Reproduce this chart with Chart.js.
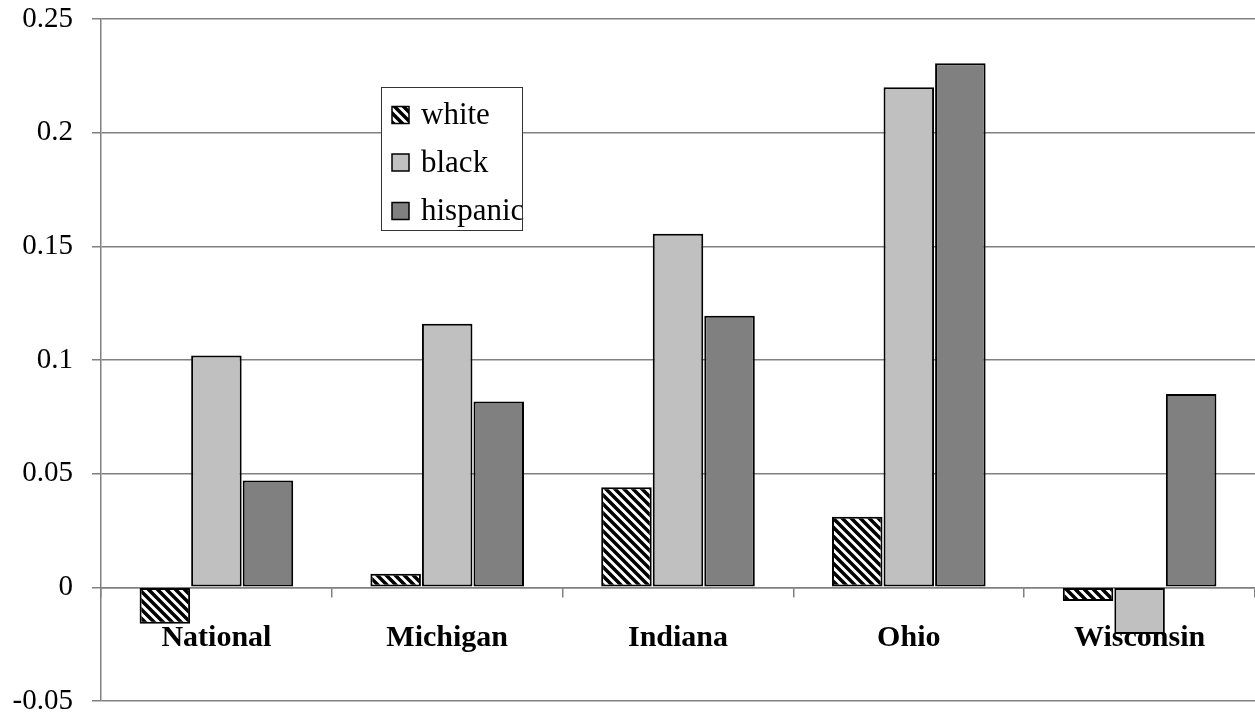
<!DOCTYPE html>
<html>
<head>
<meta charset="utf-8">
<script src="https://cdn.jsdelivr.net/npm/chart.js@4.4.1/dist/chart.umd.min.js"></script>
<style>
  html, body { margin: 0; padding: 0; background: #fff; }
  #wrap { width: 1255px; height: 715px; position: relative; }
</style>
</head>
<body>
<div id="wrap"><canvas id="chart"></canvas></div>
<script>
const categories = ['National', 'Michigan', 'Indiana', 'Ohio', 'Wisconsin'];
const whiteVals = [-0.016, 0.006, 0.044, 0.031, -0.006];
const blackVals = [0.102, 0.116, 0.1555, 0.22, -0.0205];
const hispanicVals = [0.047, 0.0817, 0.1195, 0.2305, 0.085];
const seriesNames = ['white', 'black', 'hispanic'];
const yTickValues = [-0.05, 0, 0.05, 0.1, 0.15, 0.2, 0.25];
const yTickLabels = ['-0.05', '0', '0.05', '0.1', '0.15', '0.2', '0.25'];

const SERIF = "'Liberation Serif', 'Times New Roman', serif";
const GRID = '#808080';

// diagonal hatch like Excel's "wide downward diagonal"
function makeHatch() {
    const c = document.createElement('canvas');
    c.width = 9; c.height = 9;
    const g = c.getContext('2d');
    g.fillStyle = '#fff';
    g.fillRect(0, 0, 9, 9);
    g.strokeStyle = '#000';
    g.lineWidth = 3.5;
    g.beginPath();
    g.moveTo(-2, -2); g.lineTo(11, 11);
    g.moveTo(-2, 7); g.lineTo(2, 11);
    g.moveTo(7, -2); g.lineTo(11, 2);
    g.stroke();
    return g.createPattern(c, 'repeat');
}
const hatch = makeHatch();
const fills = [hatch, '#c0c0c0', '#808080'];

const legendBox = {
    id: 'legendBox',
    afterDatasetsDraw(chart) {
        const ctx = chart.ctx;
        const x = 381, y = 87, w = 141, h = 143;
        ctx.save();
        ctx.fillStyle = '#fff';
        ctx.fillRect(x, y, w, h);
        const rows = [115, 162.5, 211];
        ctx.font = `31px ${SERIF}`;
        ctx.textBaseline = 'middle';
        ctx.textAlign = 'left';
        seriesNames.forEach((name, i) => {
            ctx.fillStyle = fills[i];
            ctx.fillRect(392, rows[i] - 8.5, 17, 17);
            ctx.strokeStyle = '#000';
            ctx.lineWidth = 1.5;
            ctx.strokeRect(392, rows[i] - 8.5, 17, 17);
            ctx.fillStyle = '#000';
            ctx.fillText(name, 421, rows[i] + 1);
        });
        ctx.strokeStyle = '#333';
        ctx.lineWidth = 1;
        ctx.strokeRect(x + 0.5, y + 0.5, w, h);
        ctx.restore();
    }
};

new Chart(document.getElementById('chart'), {
    type: 'bar',
    data: {
        labels: categories,
        datasets: [whiteVals, blackVals, hispanicVals].map((d, i) => ({
            label: seriesNames[i],
            data: d,
            backgroundColor: fills[i],
            borderColor: '#000',
            borderWidth: 2,
            borderSkipped: false,
            categoryPercentage: 0.67,
            barPercentage: 0.98
        }))
    },
    options: {
        responsive: true,
        maintainAspectRatio: false,
        animation: false,
        layout: { padding: 0 },
        plugins: { legend: { display: false }, tooltip: { enabled: false } },
        scales: {
            x: {
                position: { y: 0 },
                z: 1,
                afterFit: s => { s.height = 0; },
                grid: { offset: true, drawOnChartArea: false, tickLength: 9, color: GRID, lineWidth: 1.5 },
                border: { color: GRID, width: 1.5 },
                ticks: {
                    autoSkip: false, maxRotation: 0, padding: 27, color: '#000',
                    font: { family: SERIF, size: 30, weight: 'bold', lineHeight: 1 }
                }
            },
            y: {
                min: -0.05,
                max: 0.25,
                afterBuildTicks: s => { s.ticks = yTickValues.map(v => ({ value: v })); },
                afterFit: s => { s.width = 101; s.paddingTop = 19; s.paddingBottom = 14; },
                grid: { color: GRID, lineWidth: 1.5, tickLength: 9 },
                border: { color: GRID, width: 1.5 },
                ticks: {
                    padding: 19, color: '#000',
                    font: { family: SERIF, size: 29, lineHeight: 1 },
                    callback: v => yTickLabels[yTickValues.indexOf(v)]
                }
            }
        }
    },
    plugins: [legendBox]
});
</script>
</body>
</html>
